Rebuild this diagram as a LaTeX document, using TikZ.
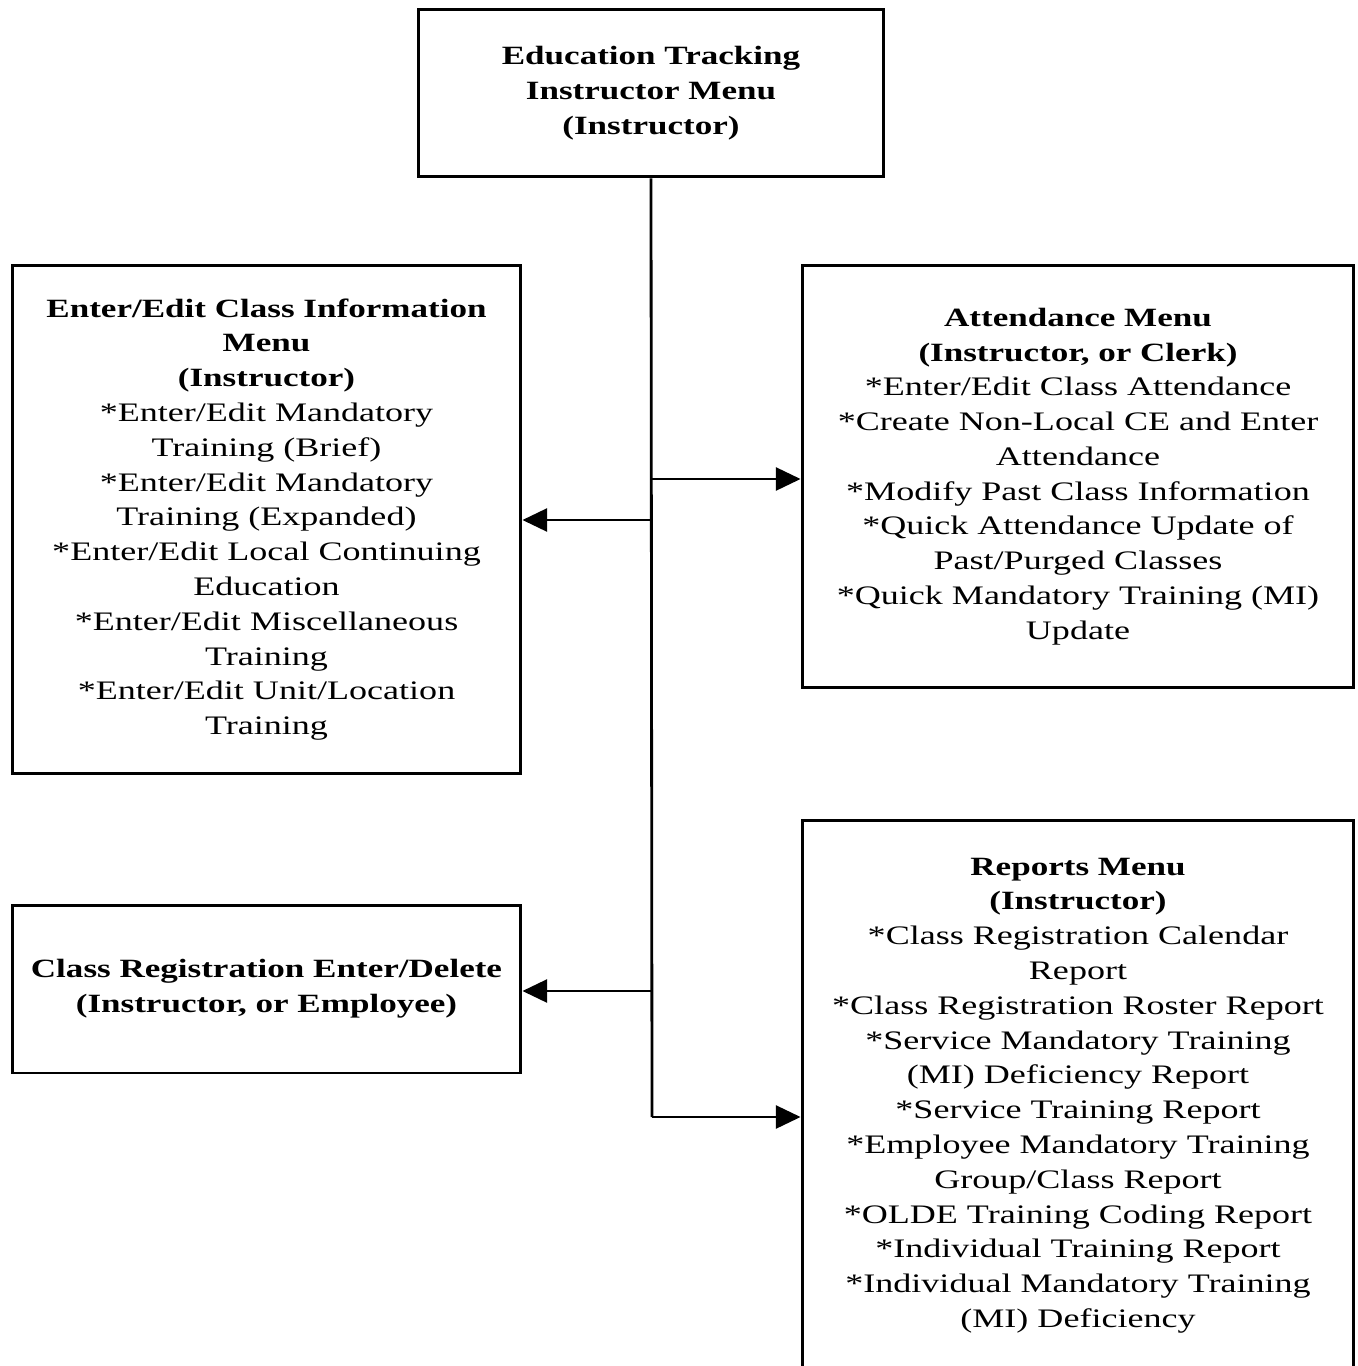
\documentclass[tikz,border=0pt]{standalone}
\usepackage{fontspec}
\usetikzlibrary{arrows.meta}
\newfontfamily\bodyfont{Liberation Serif}[FakeStretch=1.35]
\newfontfamily\headfont{Liberation Serif}[FakeStretch=1.33]
\newcommand{\hd}[1]{{\headfont\bfseries\fontsize{15}{20.3}\selectfont #1}}

\begin{document}
\begin{tikzpicture}[x=0.02cm, y=-0.02cm,
    menubox/.style={draw=black, line width=1.7pt, align=center, inner sep=0pt,
      font=\bodyfont\fontsize{15.2}{19.8}\selectfont},
    link/.style={black, line width=1.6pt},
    tip/.style={link, -{Triangle[length=14pt, width=13pt]}}]

  \useasboundingbox (0, 0) rectangle (1358, 1366);
  \clip (0, 0) rectangle (1358, 1366);

  \node[menubox, minimum width=9.32cm, minimum height=3.36cm] (top) at (651, 93)
  {\hd{Education Tracking}\\ \hd{Instructor Menu}\\ \hd{(Instructor)}};

  \node[menubox, minimum width=10.18cm, minimum height=10.18cm] (classinfo) at (266.5, 519.5)
  {\hd{Enter/Edit Class Information}\\ \hd{Menu}\\ \hd{(Instructor)}\\
    *Enter/Edit Mandatory\\ Training (Brief)\\
    *Enter/Edit Mandatory\\ Training (Expanded)\\
    *Enter/Edit Local Continuing\\ Education\\
    *Enter/Edit Miscellaneous\\ Training\\
    *Enter/Edit Unit/Location\\ Training};

  \node[menubox, minimum width=11.04cm, minimum height=8.46cm] (attend) at (1078, 476.5)
  {\hd{Attendance Menu}\\ \hd{(Instructor, or Clerk)}\\
    *Enter/Edit Class Attendance\\
    *Create Non-Local CE and Enter\\ Attendance\\
    *Modify Past Class Information\\
    *Quick Attendance Update of\\ Past/Purged Classes\\
    *Quick Mandatory Training (MI)\\ Update};

  \node[menubox, minimum width=10.18cm, minimum height=3.36cm] (register) at (266.5, 989)
  {\hd{Class Registration Enter/Delete}\\ \hd{(Instructor, or Employee)}};

  \node[menubox, minimum width=11.04cm, minimum height=11.02cm] (reports) at (1078, 1095.5)
  {\hd{Reports Menu}\\ \hd{(Instructor)}\\
    *Class Registration Calendar\\ Report\\
    *Class Registration Roster Report\\
    *Service Mandatory Training\\ (MI) Deficiency Report\\
    *Service Training Report\\
    *Employee Mandatory Training\\ Group/Class Report\\
    *OLDE Training Coding Report\\
    *Individual Training Report\\
    *Individual Mandatory Training\\ (MI) Deficiency};

  \coordinate (j1) at (652, 479);
  \coordinate (j2) at (652, 520);
  \coordinate (j3) at (652, 991);
  \coordinate (j4) at (652, 1117);

  \draw[link] (top.south) -- (j4);
  \draw[tip] (j1) -- (j1 -| attend.west);
  \draw[tip] (j2) -- (j2 -| classinfo.east);
  \draw[tip] (j3) -- (j3 -| register.east);
  \draw[tip] (j4) -- (j4 -| reports.west);

\end{tikzpicture}
\end{document}
